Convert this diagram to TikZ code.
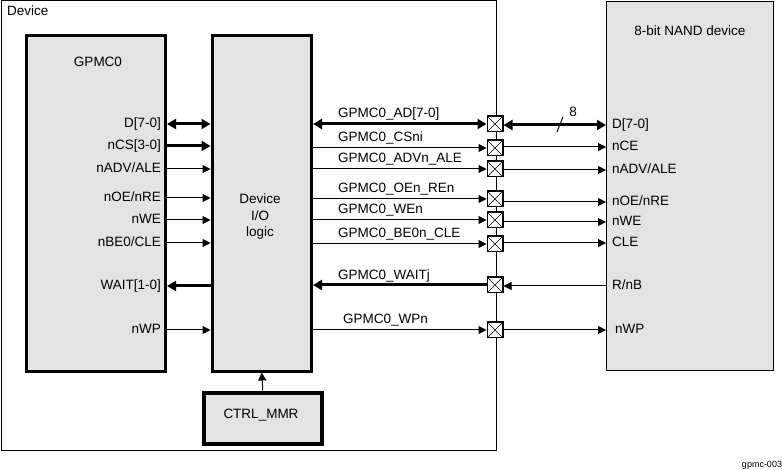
\documentclass[tikz,border=0pt]{standalone}
\usepackage{fontspec}
\setmainfont{Liberation Sans}
\usetikzlibrary{arrows.meta}
\newcommand\lbl{\fontsize{13.5}{16.5}\selectfont}

\begin{document}
\begin{tikzpicture}[x=1pt, y=-1pt, font=\lbl,
  blk/.style={draw, fill=black!11, line width=3pt, anchor=north west, inner sep=0pt},
  pinl/.style={text height=10pt, text depth=2.5pt, inner sep=1pt},
  pad/.style={draw, fill=white, line width=1.5pt, minimum size=15.5pt, inner sep=0pt,
    path picture={\draw[line width=0.6pt] (path picture bounding box.south west) -- (path picture bounding box.north east)
      (path picture bounding box.north west) -- (path picture bounding box.south east);}},
  sig/.style={line width=1pt, -{Triangle[length=8pt,width=8pt]}},
  bus/.style={line width=3pt, -{Triangle[length=9pt,width=10pt]}},
  dbus/.style={line width=3pt, {Triangle[length=9pt,width=10pt]}-{Triangle[length=9pt,width=10pt]}}]
\useasboundingbox (0,0) rectangle (782,470);

% frames
\node[draw, line width=1pt, anchor=north west, minimum width=495pt, minimum height=449pt, inner sep=0pt] (dev) at (0.5,0.5) {};
\node[anchor=west, inner sep=0pt] (devl) at (7,11) {Device};
\node[draw, fill=black!11, line width=1pt, anchor=north west, minimum width=167pt, minimum height=369pt, inner sep=0pt] (nand) at (606,1) {};
\node (nandl) at (690,31) {8-bit NAND device};
\node[blk, minimum width=139pt, minimum height=336pt] (gpmc) at (25,34) {};
\node (gpmcl) at (98,62) {GPMC0};
\node[blk, minimum width=99.5pt, minimum height=335.5pt] (io) at (210.5,34) {};
\node[align=center] (iol) at (260,217) {Device\\I/O\\logic};
\node[blk, line width=4.5pt, minimum width=118pt, minimum height=51pt] (ctrl) at (201.5,390.5) {};
\node (ctrll) at (261,415) {CTRL\_MMR};
\node[font=\fontsize{9}{10}\selectfont] (tag) at (762,465) {gpmc-003};

% GPMC0 pins
\node[pinl, anchor=east] (gD) at (162,124) {D[7-0]};
\node[pinl, anchor=east] (gCS) at (162,146) {nCS[3-0]};
\node[pinl, anchor=east] (gADV) at (162,169) {nADV/ALE};
\node[pinl, anchor=east] (gOE) at (162,198) {nOE/nRE};
\node[pinl, anchor=east] (gWE) at (162,220) {nWE};
\node[pinl, anchor=east] (gBE) at (162,243) {nBE0/CLE};
\node[pinl, anchor=east] (gW) at (162,286) {WAIT[1-0]};
\node[pinl, anchor=east] (gWP) at (162,330) {nWP};

% NAND pins
\node[pinl, anchor=west] (nD) at (611,125) {D[7-0]};
\node[pinl, anchor=west] (nCE) at (611,147) {nCE};
\node[pinl, anchor=west] (nALE) at (611,170) {nADV/ALE};
\node[pinl, anchor=west] (nOE) at (611,202) {nOE/nRE};
\node[pinl, anchor=west] (nWE) at (611,222) {nWE};
\node[pinl, anchor=west] (nCLE) at (611,243) {CLE};
\node[pinl, anchor=west] (nRB) at (611,286) {R/nB};
\node[pinl, anchor=west] (nWP) at (614,330) {nWP};

% pads
\node[pad] (p1) at (495,124) {};
\node[pad] (p2) at (495,148) {};
\node[pad] (p3) at (495,169) {};
\node[pad] (p4) at (495,199) {};
\node[pad] (p5) at (495,220) {};
\node[pad] (p6) at (495,244) {};
\node[pad] (p7) at (495,285) {};
\node[pad] (p8) at (495,330) {};

% signal names
\node[anchor=base west, inner sep=0pt] (s1) at (338,118) {GPMC0\_AD[7-0]};
\node[anchor=base west, inner sep=0pt] (s2) at (338,142) {GPMC0\_CSni};
\node[anchor=base west, inner sep=0pt] (s3) at (338,163) {GPMC0\_ADVn\_ALE};
\node[anchor=base west, inner sep=0pt] (s4) at (338,193) {GPMC0\_OEn\_REn};
\node[anchor=base west, inner sep=0pt] (s5) at (338,214) {GPMC0\_WEn};
\node[anchor=base west, inner sep=0pt] (s6) at (338,238) {GPMC0\_BE0n\_CLE};
\node[anchor=base west, inner sep=0pt] (s7) at (338,280) {GPMC0\_WAITj};
\node[anchor=base west, inner sep=0pt] (s8) at (343,324) {GPMC0\_WPn};

% GPMC0 -- I/O logic
\draw[dbus] (gpmc.east |- gD) -- (io.west |- gD);
\draw[bus] (gpmc.east |- gCS) -- (io.west |- gCS);
\draw[sig] (gpmc.east |- gADV) -- (io.west |- gADV);
\draw[sig] (gpmc.east |- gOE) -- (io.west |- gOE);
\draw[sig] (gpmc.east |- gWE) -- (io.west |- gWE);
\draw[sig] (gpmc.east |- gBE) -- (io.west |- gBE);
\draw[bus] (io.west |- gW) -- (gpmc.east |- gW);
\draw[sig] (gpmc.east |- gWP) -- (io.west |- gWP);
\draw[sig] (ctrl.north) -- (io.south);

% I/O logic -- pads
\draw[dbus] (io.east |- p1) -- (p1.west);
\draw[sig] (io.east |- p2) -- (p2.west);
\draw[sig] (io.east |- p3) -- (p3.west);
\draw[sig] (io.east |- p4) -- (p4.west);
\draw[sig] (io.east |- p5) -- (p5.west);
\draw[sig] (io.east |- p6) -- (p6.west);
\draw[bus] (p7.west) -- (io.east |- p7);
\draw[sig] (io.east |- p8) -- (p8.west);

% pads -- NAND
\draw[dbus] (p1.east |- nD) -- (nand.west |- nD);
\draw[sig] (p2.east |- nCE) -- (nand.west |- nCE);
\draw[sig] (p3.east |- nALE) -- (nand.west |- nALE);
\draw[sig] (p4.east |- nOE) -- (nand.west |- nOE);
\draw[sig] (p5.east |- nWE) -- (nand.west |- nWE);
\draw[sig] (p6.east |- nCLE) -- (nand.west |- nCLE);
\draw[sig] (nand.west |- nRB) -- (p7.east |- nRB);
\draw[sig] (p8.east |- nWP) -- (nand.west |- nWP);
\draw[line width=1pt] (557,132) -- (563,117);
\node[inner sep=0pt] (w8) at (573,112) {8};
\end{tikzpicture}
\end{document}
